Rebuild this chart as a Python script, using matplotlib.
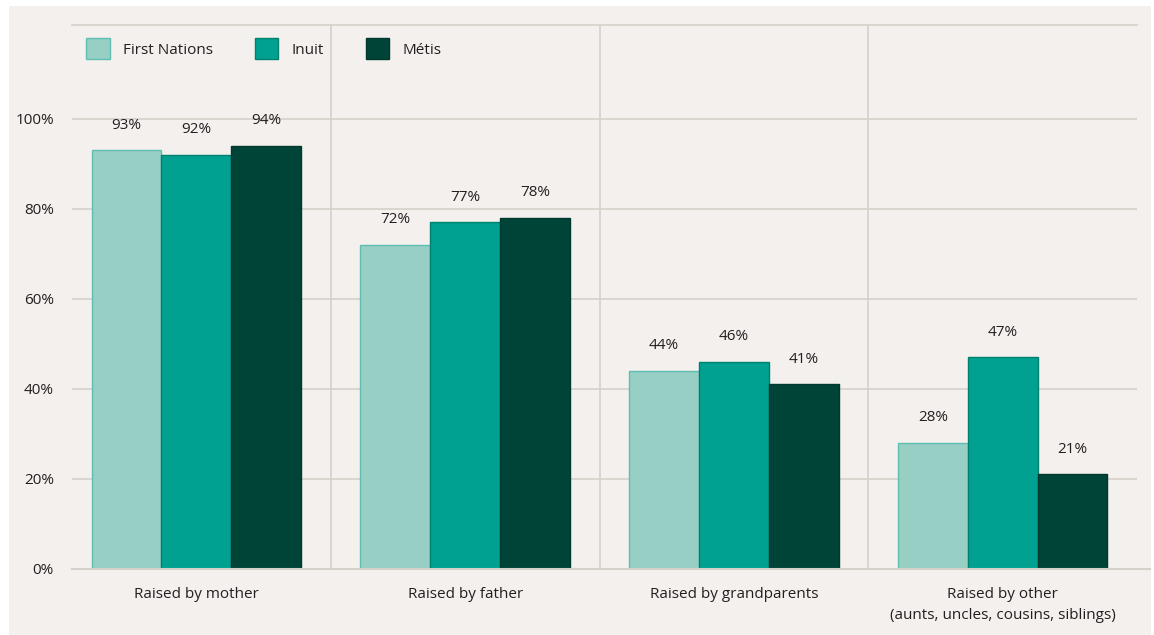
import matplotlib
matplotlib.use("Agg")
import matplotlib.pyplot as plt
from matplotlib.patches import Rectangle, Patch
import numpy as np

plt.rcParams['font.family'] = ['Open Sans', 'DejaVu Sans']

categories = ["Raised by mother", "Raised by father", "Raised by grandparents",
              "Raised by other\n(aunts, uncles, cousins, siblings)"]
series = ["First Nations", "Inuit", "Métis"]
first_nations = [93, 72, 44, 28]
inuit = [92, 77, 46, 47]
metis = [94, 78, 41, 21]
y_ticks = [0, 20, 40, 60, 80, 100]

fills = ["#97cfc5", "#00a190", "#004438"]
edges = ["#5ebfb1", "#00806f", "#00392f"]
grid_col = "#d5d0ca"
text_col = "#231f20"
bg = "#f3f0ed"
fs = 11

fig = plt.figure(figsize=(11.54, 6.35), dpi=100, facecolor="white")
fig.patches.append(Rectangle((9 / 1154, 0), 1142 / 1154, 1 - 6 / 635,
                             transform=fig.transFigure, facecolor=bg,
                             edgecolor="none", zorder=-10))

ax = fig.add_axes([72 / 1154, 1 - 569 / 635, 1065 / 1154, 544 / 635])
ax.set_facecolor("none")

x = np.arange(len(categories))
width = 0.26
for i, (vals, fc, ec) in enumerate(zip([first_nations, inuit, metis], fills, edges)):
    pos = x + (i - 1) * width
    bars = ax.bar(pos, vals, width, color=fc, edgecolor=ec, linewidth=1, zorder=3)
    for b, v in zip(bars, vals):
        ax.annotate(f"{v}%", (b.get_x() + b.get_width() / 2, v),
                    xytext=(0, 18), textcoords="offset points",
                    ha="center", va="center", fontsize=fs, color=text_col)

ax.set_xlim(-0.463, 3.5)
ax.set_ylim(0, 120.8)

# grid and group separators
for t in y_ticks[1:]:
    ax.axhline(t, color=grid_col, lw=1.2, zorder=1)
for s in [0.5, 1.5, 2.5]:
    ax.axvline(s, color=grid_col, lw=1.2, zorder=1)
ax.axhline(0, xmin=0, xmax=1.012, color=grid_col, lw=1.5, zorder=4, clip_on=False)

for side in ["left", "right", "bottom"]:
    ax.spines[side].set_visible(False)
ax.spines["top"].set_color(grid_col)
ax.spines["top"].set_linewidth(1.2)

ax.set_yticks(y_ticks)
ax.set_yticklabels([f"{t}%" for t in y_ticks])
ax.set_xticks(x)
ax.set_xticklabels(categories, linespacing=1.5)
ax.tick_params(axis="y", length=0, pad=13, labelsize=fs, labelcolor=text_col)
ax.tick_params(axis="x", length=0, pad=13, labelsize=fs, labelcolor=text_col)

handles = [Patch(facecolor=fc, edgecolor=ec, linewidth=1) for fc, ec in zip(fills, edges)]
ax.legend(handles, series, ncol=3, loc="upper left", bbox_to_anchor=(0.003, 0.996),
          frameon=False, fontsize=fs, labelcolor=text_col,
          handlelength=1.55, handleheight=1.8, handletextpad=0.85,
          columnspacing=2.75, borderaxespad=0.3)

fig.savefig("out.png", dpi=100, facecolor="white")
